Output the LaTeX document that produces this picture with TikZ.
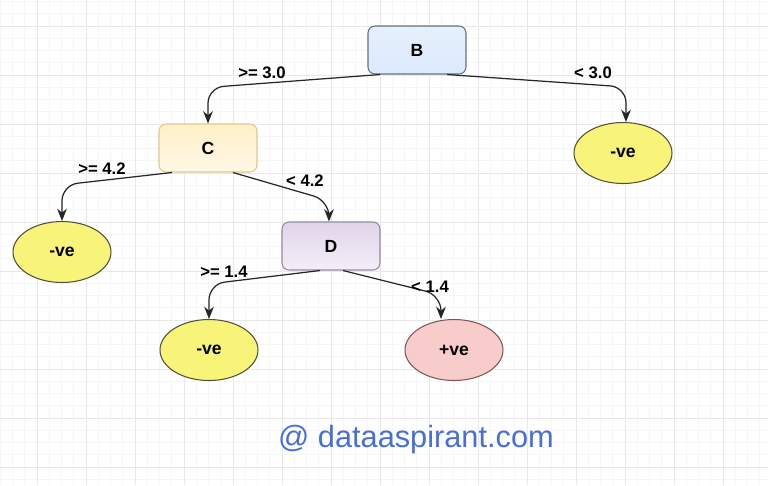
\documentclass[tikz,border=0pt]{standalone}
\usepackage{fontspec}
\setmainfont{Liberation Sans}
\usepackage{xcolor}
\usepackage{tikz}
\usetikzlibrary{arrows.meta,positioning,calc,shapes.geometric}

\definecolor{bfill}{RGB}{214,230,251}
\definecolor{bline}{RGB}{100,112,128}
\definecolor{cfill}{RGB}{255,240,200}
\definecolor{cline}{RGB}{224,200,140}
\definecolor{dfill}{RGB}{224,212,234}
\definecolor{dline}{RGB}{150,136,162}
\definecolor{negfill}{RGB}{248,244,122}
\definecolor{negline}{RGB}{80,80,60}
\definecolor{posfill}{RGB}{248,204,202}
\definecolor{posline}{RGB}{120,90,90}
\definecolor{wmblue}{RGB}{72,112,212}

\tikzset{
  split/.style={draw,rounded corners=4pt,minimum width=1.96cm,minimum height=0.96cm,
    font=\fontsize{10}{12}\selectfont\bfseries,line width=0.6pt},
  leaf/.style={ellipse,draw,minimum width=1.96cm,minimum height=1.22cm,inner sep=0pt,
    font=\fontsize{10}{12}\selectfont\bfseries,line width=0.6pt},
  link/.style={-{Stealth[length=7pt,width=5.5pt]},line width=0.7pt,black!85,rounded corners=9pt},
  cond/.style={font=\fontsize{9.5}{11}\selectfont\bfseries},
  gridmajor/.style={black!9,line width=0.5pt},
  gridminor/.style={black!3.5,line width=0.4pt}
}

\begin{document}
\begin{tikzpicture}[x=0.02cm,y=-0.02cm]
  % background and grid
  \fill[white] (0,0) rectangle (768,485);
  \useasboundingbox (0,0) rectangle (768,485);
  \foreach \i in {-3,...,59} {
    \draw[gridminor] ({37+12.25*\i},0) -- ({37+12.25*\i},485);
  }
  \foreach \i in {-2,...,37} {
    \draw[gridminor] (0,{26+12.25*\i}) -- (768,{26+12.25*\i});
  }
  \foreach \i in {0,...,15} {
    \draw[gridmajor] ({37+49*\i},0) -- ({37+49*\i},485);
  }
  \foreach \i in {0,...,9} {
    \draw[gridmajor] (0,{26+49*\i}) -- (768,{26+49*\i});
  }

  % split nodes
  \node[split,draw=bline,top color=bfill!60,bottom color=bfill!85!white] (B) at (417,50) {B};
  \node[split,draw=cline,top color=cfill,bottom color=cfill!45] (C) at (208,148) {C};
  \node[split,draw=dline,top color=dfill,bottom color=dfill!40] (D) at (331,246) {D};

  % leaves
  \node[leaf,draw=negline,fill=negfill] (negR) at (623,153) {-ve};
  \node[leaf,draw=negline,fill=negfill] (negL) at (62,252) {-ve};
  \node[leaf,draw=negline,fill=negfill] (negD) at (209,350) {-ve};
  \node[leaf,draw=posline,fill=posfill] (posD) at (454,350) {+ve};

  % branches
  \draw[link] ([xshift=-0.74cm]B.south) -- ([yshift=0.72cm]C.north) -- (C.north);
  \draw[link] ([xshift=0.6cm]B.south) -- ([xshift=0.06cm,yshift=0.7cm]negR.north) -- ([xshift=0.06cm]negR.north);
  \draw[link] ([xshift=-0.72cm]C.south) -- ([yshift=0.72cm]negL.north) -- (negL.north);
  \draw[link] ([xshift=0.5cm]C.south) -- ([xshift=-0.04cm,yshift=0.42cm]D.north) -- ([xshift=-0.04cm]D.north);
  \draw[link] ([xshift=-0.22cm]D.south) -- ([yshift=0.7cm]negD.north) -- (negD.north);
  \draw[link] ([xshift=0.24cm]D.south) -- ([xshift=-0.26cm,yshift=0.48cm]posD.north) -- ([xshift=-0.26cm]posD.north);

  % conditions
  \node[cond] (c1) at (262,73) {>= 3.0};
  \node[cond] (c2) at (593,73) {< 3.0};
  \node[cond] (c3) at (102,169) {>= 4.2};
  \node[cond] (c4) at (305,181) {< 4.2};
  \node[cond] (c5) at (224,272) {>= 1.4};
  \node[cond] (c6) at (430,287) {< 1.4};

  \node[text=wmblue,font=\fontsize{17.5}{20}\selectfont] (mark) at (416,440) {@ dataaspirant.com};
\end{tikzpicture}
\end{document}
